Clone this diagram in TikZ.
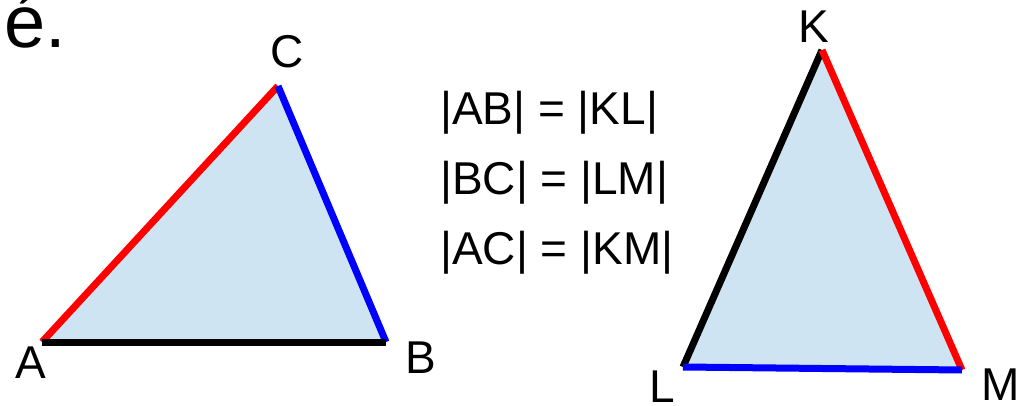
\documentclass[tikz,border=0pt]{standalone}
\usepackage{fontspec}
\setmainfont{Liberation Sans}
\definecolor{trifill}{RGB}{207,228,242}
\tikzset{
  edge/.style={line width=7pt},
  lbl/.style={inner sep=0pt, anchor=base, font=\fontsize{46}{54}\selectfont},
  eqn/.style={inner sep=0pt, anchor=base west, font=\fontsize{46}{54}\selectfont}
}
\begin{document}
\begin{tikzpicture}[x=1pt,y=-1pt]
\useasboundingbox (0,0) rectangle (1023,406);
% first triangle
\coordinate (A) at (42,342);
\coordinate (B) at (386,342);
\coordinate (C) at (278,86);
\fill[trifill] (A) -- (B) -- (C) -- cycle;
\draw[edge,red] (A) -- (C);
\draw[edge,blue] (C) -- (B);
\draw[edge,black] (A) -- (B);
% second triangle
\coordinate (K) at (822,50);
\coordinate (L) at (683,367);
\coordinate (M) at (962,370);
\fill[trifill] (K) -- (L) -- (M) -- cycle;
\draw[edge,black] (K) -- (L);
\draw[edge,red] (K) -- (M);
\draw[edge,blue] (L) -- (M);
% vertex labels
\node[lbl] (lA) at (31,378) {A};
\node[lbl] (lB) at (421,373) {B};
\node[lbl] (lC) at (287,68) {C};
\node[lbl] (lK) at (814,43) {K};
\node[lbl] (lL) at (662,402) {L};
\node[lbl] (lM) at (1001,400) {M};
% equalities
\node[eqn] (e1) at (440,125) {|AB| = |KL|};
\node[eqn] (e2) at (440,195) {|BC| = |LM|};
\node[eqn] (e3) at (440,265) {|AC| = |KM|};
% partial title
\node[inner sep=0pt, anchor=base west, font=\fontsize{74}{86}\selectfont] (t) at (4,48) {é.};
\end{tikzpicture}
\end{document}
